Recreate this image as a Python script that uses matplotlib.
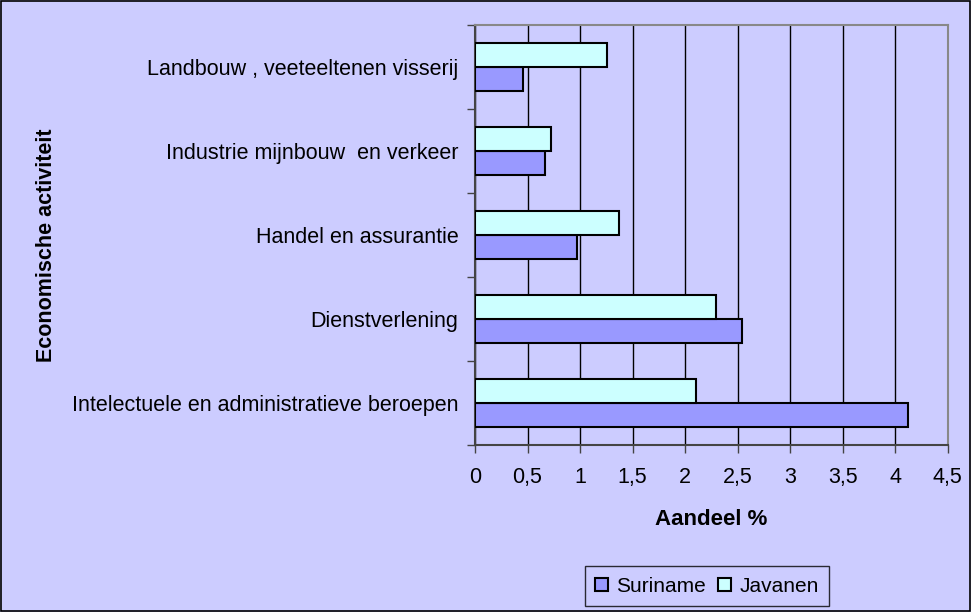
import numpy as np
import matplotlib.pyplot as plt

plt.rcParams['font.family'] = ['Liberation Sans', 'DejaVu Sans']

# data (bottom to top)
categories = ['Intelectuele en administratieve beroepen',
              'Dienstverlening',
              'Handel en assurantie',
              'Industrie mijnbouw  en verkeer',
              'Landbouw , veeteeltenen visserij']
suriname = [4.12, 2.54, 0.97, 0.67, 0.46]
javanen = [2.10, 2.29, 1.37, 0.72, 1.26]
xticks = [0, 0.5, 1, 1.5, 2, 2.5, 3, 3.5, 4, 4.5]
xticklabels = ['0', '0,5', '1', '1,5', '2', '2,5', '3', '3,5', '4', '4,5']

bg = '#CCCCFF'
fig = plt.figure(figsize=(9.71, 6.12), dpi=100, facecolor=bg)
# figure border
fig.patches.append(plt.Rectangle((0.001, 0.001), 0.998, 0.997, transform=fig.transFigure,
                                 fill=False, edgecolor='black', linewidth=1.2))

W, H = 971, 612
ax = fig.add_axes([475 / W, 1 - 445 / H, (947.7 - 475) / W, (445 - 25) / H])
ax.set_facecolor(bg)

y = np.arange(len(categories))
h = 24 / 84
ax.barh(y - h / 2, suriname, height=h, color='#9999FF', edgecolor='black',
        linewidth=1.5, label='Suriname', zorder=3)
ax.barh(y + h / 2, javanen, height=h, color='#CCFFFF', edgecolor='black',
        linewidth=1.5, label='Javanen', zorder=3)

ax.set_xlim(0, 4.5)
ax.set_ylim(-0.5, len(categories) - 0.5)
ax.set_xticks(xticks)
ax.set_xticklabels(xticklabels, fontsize=15.5)
ax.set_yticks(y)
ax.set_yticklabels(categories, fontsize=15.5)
ax.set_yticks(np.arange(-0.5, len(categories)), minor=True)
ax.tick_params(axis='y', which='major', length=0, pad=12)
ax.tick_params(axis='y', which='minor', length=6, width=1, color='#444444', direction='out')
ax.tick_params(axis='x', length=6, width=1, color='#444444', pad=10)
ax.grid(axis='x', color='black', linewidth=1, zorder=0)

for s in ['top', 'right']:
    ax.spines[s].set_color('#888888')
    ax.spines[s].set_linewidth(1.5)
for s in ['left', 'bottom']:
    ax.spines[s].set_color('#444444')
    ax.spines[s].set_linewidth(1.5)

ax.set_xlabel('Aandeel %', fontsize=16, fontweight='bold', labelpad=15)
fig.text(46 / W, 1 - 245 / H, 'Economische activiteit', rotation=90,
         fontsize=15.5, fontweight='bold', ha='center', va='center')

leg = fig.legend(loc='center', bbox_to_anchor=(707 / W, 1 - 586 / H), ncol=2,
                 fontsize=15, frameon=True, fancybox=False, edgecolor='black',
                 facecolor=bg, handlelength=0.6, handleheight=0.6,
                 handletextpad=0.4, columnspacing=0.6, borderpad=0.5)
leg.get_frame().set_linewidth(1)

fig.savefig('out.png', dpi=100, facecolor=bg)
